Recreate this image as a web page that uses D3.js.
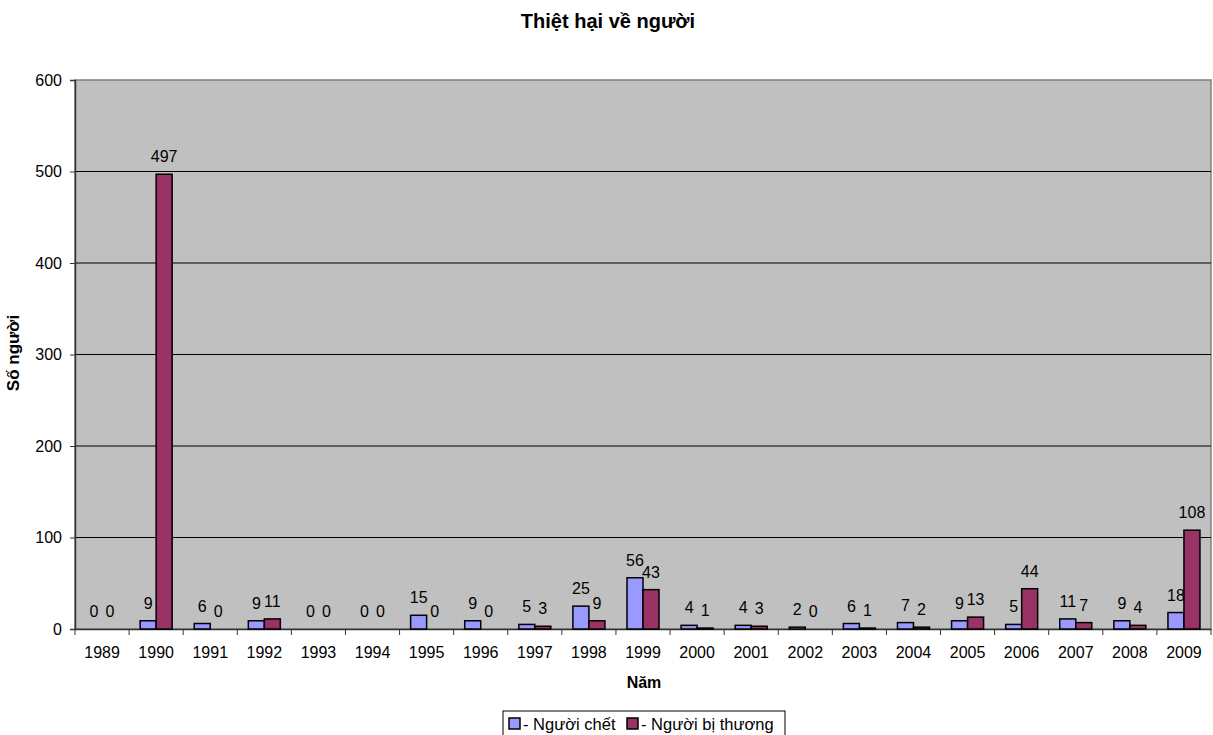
<!DOCTYPE html>
<html>
<head>
<meta charset="utf-8">
<script src="https://cdn.jsdelivr.net/npm/d3@7"></script>
<style>
  body { margin: 0; background: #fff; }
  svg { display: block; font-family: "Liberation Sans", Arial, sans-serif; }
</style>
</head>
<body>
<svg id="chart" width="1213" height="735"></svg>
<script>
const years = ["1989","1990","1991","1992","1993","1994","1995","1996","1997","1998","1999",
  "2000","2001","2002","2003","2004","2005","2006","2007","2008","2009"];
const deaths = [0,9,6,9,0,0,15,9,5,25,56,4,4,2,6,7,9,5,11,9,18];
const injured = [0,497,0,11,0,0,0,0,3,9,43,1,3,0,1,2,13,44,7,4,108];
const seriesNames = ["- Người chết", "- Người bị thương"];
const seriesColors = ["#9999ff", "#993366"];
const yTicks = [0,100,200,300,400,500,600];

const FONT = "Liberation Sans, Arial, sans-serif";
const svg = d3.select("#chart");
const m = { left: 75, right: 1211, top: 80, bottom: 629 };

const x = d3.scaleBand().domain(years).range([m.left, m.right]);
const y = d3.scaleLinear().domain([0, 600]).range([m.bottom, m.top]);
const sub = d3.scaleBand().domain([0, 1]).range([0, 32]);

// Plot background
svg.append("rect")
  .attr("x", m.left).attr("y", m.top)
  .attr("width", m.right - m.left).attr("height", m.bottom - m.top)
  .attr("fill", "#c0c0c0").attr("stroke", "#808080").attr("stroke-width", 1.5);

// Gridlines
svg.append("g").selectAll("line").data(yTicks.filter(d => d > 0 && d < 600)).join("line")
  .attr("x1", m.left).attr("x2", m.right)
  .attr("y1", d => y(d)).attr("y2", d => y(d))
  .attr("stroke", "#000").attr("stroke-width", 1);

// Y axis
const yAxis = svg.append("g").attr("transform", `translate(${m.left},0)`)
  .call(d3.axisLeft(y).tickValues(yTicks).tickSize(5).tickPadding(8));
yAxis.select(".domain").attr("stroke", "#333").attr("stroke-width", 1.5);
yAxis.selectAll(".tick line").attr("stroke", "#333");
yAxis.selectAll("text").attr("font-size", 16).attr("fill", "#000").attr("font-family", FONT);

// X axis
const xAxis = svg.append("g").attr("transform", `translate(0,${m.bottom})`)
  .call(d3.axisBottom(x).tickSize(0).tickPadding(18));
xAxis.select(".domain").attr("stroke", "#333").attr("stroke-width", 1.5);
xAxis.selectAll("text").attr("font-size", 16).attr("fill", "#000").attr("font-family", FONT);
svg.append("g").selectAll("line").data(years.concat(["end"])).join("line")
  .attr("x1", (d, i) => m.left + i * x.step()).attr("x2", (d, i) => m.left + i * x.step())
  .attr("y1", m.bottom).attr("y2", m.bottom + 6)
  .attr("stroke", "#333");

// Bars
const rows = years.map((yr, i) => [deaths[i], injured[i]]);
const groups = svg.append("g").selectAll("g").data(rows).join("g")
  .attr("transform", (d, i) => `translate(${x(years[i]) + (x.bandwidth() - 32) / 2},0)`);

groups.selectAll("rect").data(d => d.map((v, k) => ({ v, k }))).join("rect")
  .filter(d => d.v > 0)
  .attr("x", d => sub(d.k))
  .attr("y", d => y(d.v))
  .attr("width", sub.bandwidth())
  .attr("height", d => y(0) - y(d.v))
  .attr("fill", d => seriesColors[d.k])
  .attr("stroke", "#000").attr("stroke-width", 1.5);

groups.selectAll("text").data(d => d.map((v, k) => ({ v, k }))).join("text")
  .attr("x", d => sub(d.k) + sub.bandwidth() / 2)
  .attr("y", d => y(d.v) - 12)
  .attr("text-anchor", "middle")
  .attr("font-size", 16).attr("fill", "#000")
  .text(d => d.v);

// Titles
svg.append("text").attr("x", 608).attr("y", 28).attr("text-anchor", "middle")
  .attr("font-size", 20).attr("font-weight", "bold").text("Thiệt hại về người");
svg.append("text").attr("x", 644).attr("y", 688).attr("text-anchor", "middle")
  .attr("font-size", 16).attr("font-weight", "bold").text("Năm");
svg.append("text").attr("transform", "translate(19,353) rotate(-90)").attr("text-anchor", "middle")
  .attr("font-size", 17).attr("font-weight", "bold").text("Số người");

// Legend
const lg = svg.append("g").attr("transform", "translate(503,711)");
lg.append("rect").attr("x", 0).attr("y", 0).attr("width", 282).attr("height", 30)
  .attr("fill", "#fff").attr("stroke", "#000");
const items = lg.selectAll("g").data(seriesNames).join("g")
  .attr("transform", (d, i) => `translate(${[6, 124][i]},0)`);
items.append("rect").attr("x", 0).attr("y", 7).attr("width", 11).attr("height", 11)
  .attr("fill", (d, i) => seriesColors[i]).attr("stroke", "#000").attr("stroke-width", 1.5);
items.append("text").attr("x", 14).attr("y", 19).attr("font-size", 16.5).text(d => d);
</script>
</body>
</html>
